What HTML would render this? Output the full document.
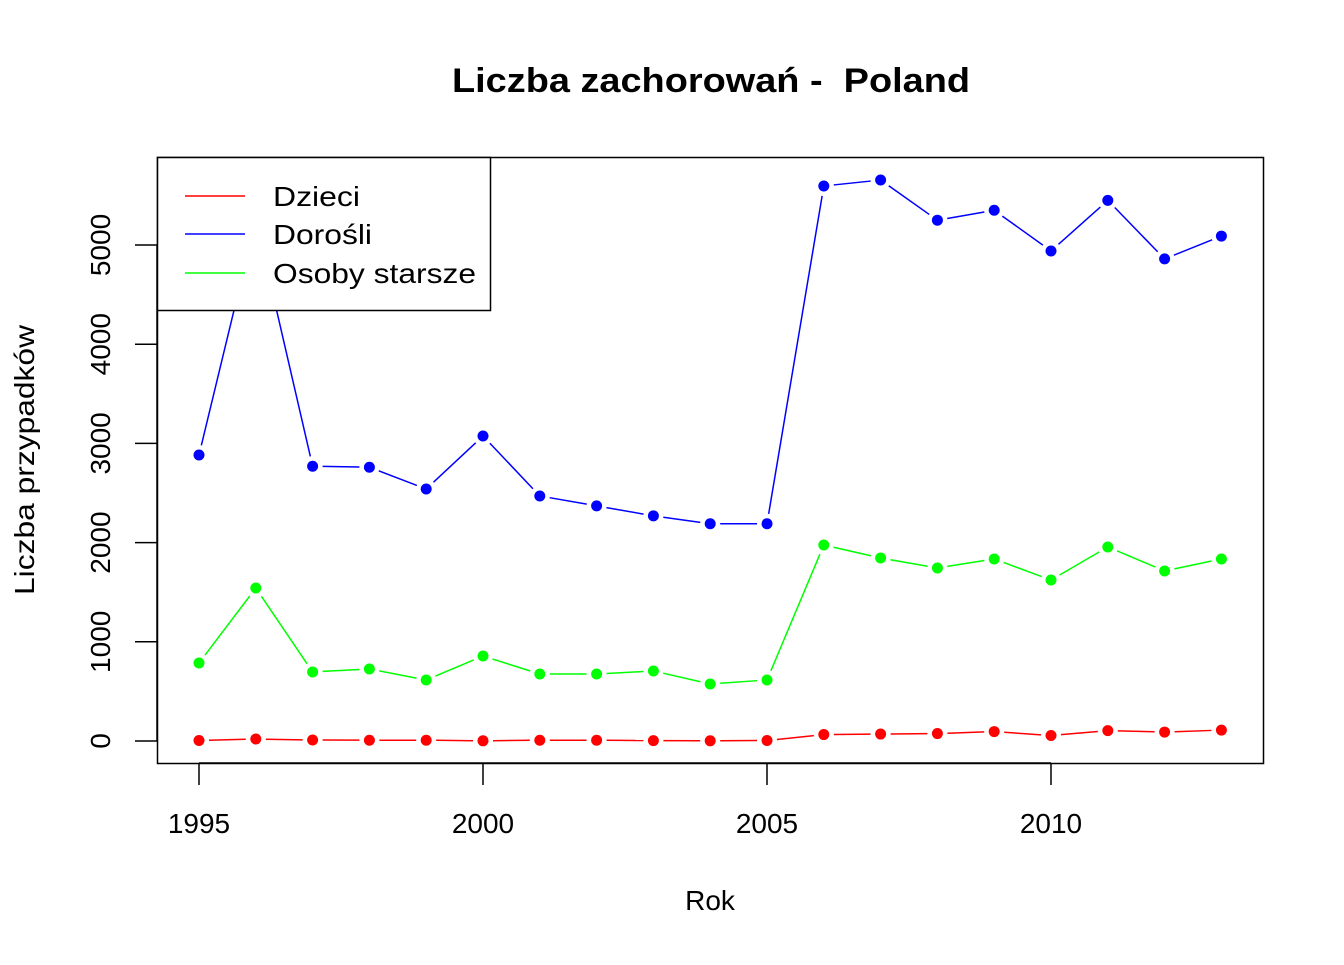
<!DOCTYPE html>
<html><head><meta charset="utf-8"><style>
body{margin:0;background:#fff}
svg text{font-family:"Liberation Sans",Arial,sans-serif;fill:#000}
</style></head><body>
<svg id="chart" width="1344" height="960" xmlns="http://www.w3.org/2000/svg">
<text x="452" y="92" font-size="34" font-weight="bold" textLength="518" lengthAdjust="spacingAndGlyphs" style="white-space:pre">Liczba zachorowań -  Poland</text>
<rect x="157.5" y="157.5" width="1106" height="606" fill="none" stroke="#000" stroke-width="1.5"/>
<text x="710" y="910" font-size="28" text-anchor="middle">Rok</text>
<text transform="translate(34,595) rotate(-90)" font-size="28" textLength="270" lengthAdjust="spacingAndGlyphs">Liczba przypadków</text>
<g id="axes"></g>
<g id="series"></g>
<g>
<rect x="157.5" y="157.5" width="333" height="153" fill="#fff" stroke="#000" stroke-width="1.5"/>
<line x1="185" y1="196" x2="245" y2="196" stroke="#ff0000" stroke-width="1.5"/>
<text x="273" y="206" font-size="28" textLength="87" lengthAdjust="spacingAndGlyphs">Dzieci</text>
<line x1="185" y1="234" x2="245" y2="234" stroke="#0000ff" stroke-width="1.5"/>
<text x="273" y="244" font-size="28" textLength="99" lengthAdjust="spacingAndGlyphs">Dorośli</text>
<line x1="185" y1="273" x2="245" y2="273" stroke="#00ff00" stroke-width="1.5"/>
<text x="273" y="283" font-size="28" textLength="203" lengthAdjust="spacingAndGlyphs">Osoby starsze</text>
</g>
</svg>
<script>
const years=[1995,1996,1997,1998,1999,2000,2001,2002,2003,2004,2005,2006,2007,2008,2009,2010,2011,2012,2013];
const dzieci=[5,20,10,8,8,2,8,8,4,2,5,65,70,75,95,55,105,90,110];
const dorosli=[2883,5250,2770,2760,2540,3075,2470,2370,2270,2190,2190,5595,5655,5250,5350,4940,5450,4860,5090];
const starsze=[786,1542,696,726,615,857,675,675,706,575,615,1976,1845,1744,1835,1623,1956,1714,1835];
const xTicks=[1995,2000,2005,2010];
const yTicks=[0,1000,2000,3000,4000,5000];
const NS="http://www.w3.org/2000/svg";
const X=v=>199+(v-1995)*56.8;
const Y=v=>741-v*0.0992;
function mk(tag,attrs,parent){const e=document.createElementNS(NS,tag);for(const k in attrs)e.setAttribute(k,attrs[k]);parent.appendChild(e);return e;}
const axes=document.getElementById('axes');
mk('line',{x1:X(1995),y1:763,x2:X(2010),y2:763,stroke:'#000','stroke-width':1.5},axes);
xTicks.forEach(t=>{
 const l=mk('line',{x1:X(t),y1:763,x2:X(t),y2:785,stroke:'#000','stroke-width':1.5},axes);
 
 
 const tx=mk('text',{x:X(t),y:833,'font-size':28,'text-anchor':'middle'},axes);tx.textContent=t;
 
 
});
yTicks.forEach(t=>{
 const l=mk('line',{x1:157,y1:Y(t),x2:135,y2:Y(t),stroke:'#000','stroke-width':1.5},axes);
 
 
 const tx=mk('text',{transform:`translate(110,${Y(t)}) rotate(-90)`,'font-size':28,'text-anchor':'middle'},axes);tx.textContent=t;
 
 
});
mk('line',{x1:157,y1:Y(0),x2:157,y2:Y(5000),stroke:'#000','stroke-width':1.5},axes);
const sg=document.getElementById('series');
function draw(vals,color,name){
 const g=mk('g',{},sg);
 
 
 const gap=10;
 for(let i=0;i<vals.length-1;i++){
  const x1=X(years[i]),y1=Y(vals[i]),x2=X(years[i+1]),y2=Y(vals[i+1]);
  const d=Math.hypot(x2-x1,y2-y1);if(d<=2*gap)continue;
  const ux=(x2-x1)/d,uy=(y2-y1)/d;
  mk('line',{x1:x1+ux*gap,y1:y1+uy*gap,x2:x2-ux*gap,y2:y2-uy*gap,stroke:color,'stroke-width':1.5},g);
 }
 vals.forEach((v,i)=>{
  const c=mk('circle',{cx:X(years[i]),cy:Y(v),r:5.5,fill:color},g);
  
  
 });
}
draw(dzieci,'#ff0000','dzieci');
draw(dorosli,'#0000ff','dorosli');
draw(starsze,'#00ff00','starsze');
</script>
</body></html>
